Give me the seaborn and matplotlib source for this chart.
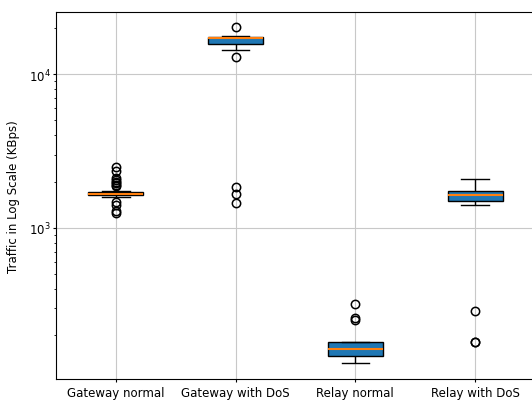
import matplotlib
matplotlib.use("Agg")
import matplotlib.pyplot as plt
import seaborn as sns
import pandas as pd

categories = ["Gateway normal", "Gateway with DoS", "Relay normal", "Relay with DoS"]

gateway_normal = [1250, 1290, 1420, 1470,
                  1600, 1610, 1615, 1620, 1625, 1630,
                  1635,
                  1640, 1645, 1650, 1655, 1660, 1660, 1665, 1665, 1670,
                  1670,
                  1675, 1680, 1680, 1685, 1690, 1690, 1695, 1700, 1705,
                  1710,
                  1720, 1730,
                  1860, 1900, 1950, 2000, 2050, 2100, 2350, 2500]

gateway_dos = [1450, 1650, 1850, 12900,
               14400,
               15800,
               16200, 16600, 16900, 17100,
               17200,
               17250, 17300, 17350, 17450,
               17500,
               17550, 17650, 17700, 17800,
               20200]

relay_normal = [133,
                138, 140, 143, 145,
                146,
                150, 154, 157, 160,
                162,
                166, 170, 174, 177,
                180,
                180, 181,
                250, 258, 318]

relay_dos = [180, 180, 288,
             1413,
             1486,
             1520, 1560, 1600,
             1626,
             1660, 1700, 1730,
             1745,
             1800, 1880, 1970, 2070]

series = [gateway_normal, gateway_dos, relay_normal, relay_dos]
df = pd.DataFrame({
    "scenario": [c for c, vals in zip(categories, series) for _ in vals],
    "traffic": [v for vals in series for v in vals],
})

plt.rcParams["font.family"] = ["DejaVu Sans"]
plt.rcParams["font.size"] = 8.5

fig = plt.figure(figsize=(5.32, 4.02), dpi=100)
ax = fig.add_axes([56 / 532, 22 / 402, 479 / 532, 367 / 402])

# Quartiles and whiskers are computed on the raw KBps values
sns.boxplot(
    data=df, x="scenario", y="traffic", order=categories, ax=ax,
    width=0.46, color="#1f77b4", saturation=1, linecolor="black",
    linewidth=1.0,
    medianprops={"color": "#ff7f0e", "linewidth": 1.5},
    whiskerprops={"color": "black"},
    capprops={"color": "black"},
    boxprops={"edgecolor": "black", "facecolor": "#1f77b4"},
    flierprops={"marker": "o", "markerfacecolor": "none",
                "markeredgecolor": "black", "markersize": 6,
                "markeredgewidth": 1.1},
)

ax.set_yscale("log")
ax.set_xlim(-0.5, 3.5)
ax.set_ylim(104, 25400)
ax.set_xlabel("")
ax.set_ylabel("Traffic in Log Scale (KBps)", labelpad=6)
ax.grid(True, which="major", color="#c8c8c8", linewidth=0.8)
ax.set_axisbelow(True)
ax.tick_params(axis="x", length=2.5, pad=2.5)
ax.tick_params(axis="y", which="major", length=2.5, pad=1.5)
ax.tick_params(axis="y", which="minor", length=1.5)
for s in ax.spines.values():
    s.set_color("black")

fig.savefig("out.png", dpi=100)
